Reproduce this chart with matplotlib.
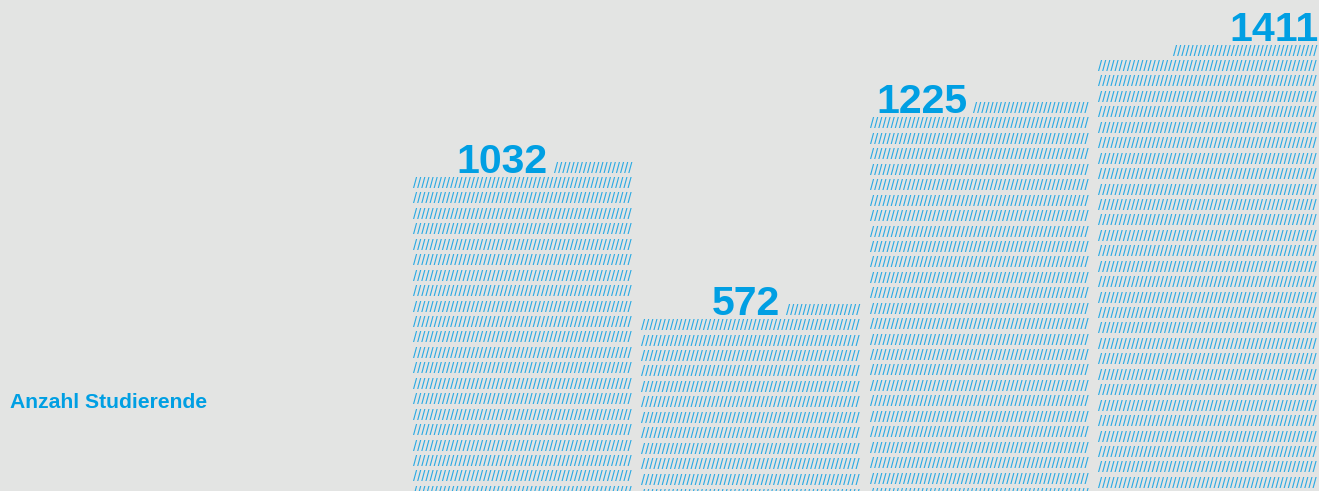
import matplotlib
matplotlib.use("Agg")
import matplotlib.pyplot as plt

# ---- data ----
values = [1032, 572, 1225, 1411]
value_labels = ["1032", "572", "1225", "1411"]
axis_label = "Anzahl Studierende"
row_step = 50  # students represented by one row of slashes

# ---- style ----
BG = "#e3e4e3"
BLUE = "#009fe3"
SLASH = "#2aaae3"
FONT = "Liberation Sans"
W_PX, H_PX, DPI = 1319, 491, 100
PX_PER_PT = DPI / 72.0

fig = plt.figure(figsize=(W_PX / DPI, H_PX / DPI), dpi=DPI, facecolor=BG)
ax = fig.add_axes([0, 0, 1, 1])
ax.set_facecolor(BG)
ax.set_axis_off()

px_per_cat = 228.33
first_center_px = 522.5
ax.set_xlim(-first_center_px / px_per_cat, (W_PX - first_center_px) / px_per_cat)
ax.set_ylim(-12, 1578)

bar_w = 219 / px_per_cat
FS = 10.7
adv_px = 0.2778 * FS * PX_PER_PT
n_full = 53
partial_n = [19, 18, 28, 35]

for i, v in enumerate(values):
    left = i - bar_w / 2
    right = i + bar_w / 2
    # top partial row
    ax.text(right, v, "/" * partial_n[i], ha="right", va="center",
            fontsize=FS, color=SLASH, family=FONT, clip_on=True)
    y = v - row_step
    while y > -row_step:
        ax.text(left, y, "/" * n_full, ha="left", va="center",
                fontsize=FS, color=SLASH, family=FONT, clip_on=True)
        y -= row_step
    # value label
    if i < len(values) - 1:
        dx = -(partial_n[i] * adv_px + 6) / PX_PER_PT
        dy = -4 / PX_PER_PT
    else:
        dx = 2 / PX_PER_PT
        dy = 11 / PX_PER_PT
    ax.annotate(value_labels[i], xy=(right, v), xytext=(dx, dy),
                textcoords="offset points", ha="right", va="baseline",
                fontsize=29.5, fontweight="bold", color=BLUE, family=FONT)

fig.text(10 / W_PX, 1 - 402 / H_PX, axis_label, ha="left", va="center",
         fontsize=15.2, fontweight="bold", color=BLUE, family=FONT)

fig.savefig("out.png", dpi=DPI, facecolor=BG)
